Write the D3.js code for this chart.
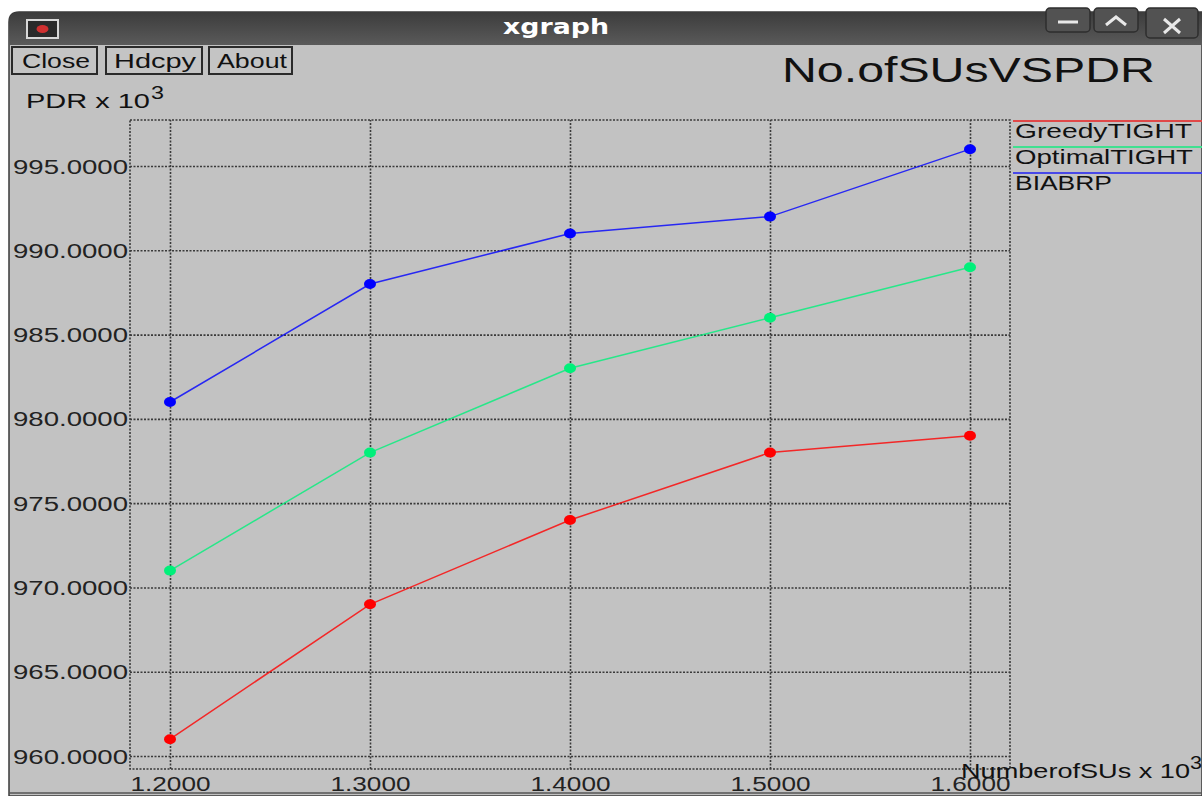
<!DOCTYPE html>
<html>
<head>
<meta charset="utf-8">
<script src="https://cdn.jsdelivr.net/npm/d3@7"></script>
<style>
  body { margin: 0; background: #fff; }
  svg { display: block; font-family: "Liberation Sans", "DejaVu Sans", sans-serif; }
</style>
</head>
<body>
<svg id="chart" width="1202" height="796"></svg>
<script>
// values
const xValues = [1.2, 1.3, 1.4, 1.5, 1.6];
const greedyTight = [961, 969, 974, 978, 979];
const optimalTight = [971, 978, 983, 986, 989];
const biabrp = [981, 988, 991, 992, 996];
const seriesNames = ["GreedyTIGHT", "OptimalTIGHT", "BIABRP"];
const seriesColors = ["#ff0000", "#00f07a", "#0000ff"];
const legendColors = ["#e04848", "#40e090", "#4848e8"];
const yTicks = [960, 965, 970, 975, 980, 985, 990, 995];
const xTicks = [1.2, 1.3, 1.4, 1.5, 1.6];
const buttonLabels = ["Close", "Hdcpy", "About"];

const svg = d3.select("#chart");
const W = 1202, H = 796;

// xgraph fonts are drawn wide, so stretch text to the widths seen in the window
const stretch = (t, len) => t.attr("textLength", len).attr("lengthAdjust", "spacingAndGlyphs");

// window frame
const defs = svg.append("defs");
const grad = defs.append("linearGradient").attr("id", "tbar").attr("x1", 0).attr("y1", 0).attr("x2", 0).attr("y2", 1);
grad.append("stop").attr("offset", "0%").attr("stop-color", "#3c3c3c");
grad.append("stop").attr("offset", "100%").attr("stop-color", "#5a5a5a");

svg.append("path")
  .attr("d", `M9 ${H} L9 22 Q9 12 19 12 L${W} 12 L${W} ${H} Z`)
  .attr("fill", "#c2c2c2").attr("stroke", "#3a3a3a").attr("stroke-width", 1.5);
svg.append("path")
  .attr("d", `M9 45 L9 22 Q9 12 19 12 L${W} 12 L${W} 45 Z`)
  .attr("fill", "url(#tbar)");
svg.append("line").attr("x1", 9).attr("x2", W).attr("y1", 793).attr("y2", 793)
  .attr("stroke", "#555").attr("stroke-width", 1.5);

// title bar icon
svg.append("rect").attr("x", 27).attr("y", 20).attr("width", 31).attr("height", 18)
  .attr("fill", "#2a2a2a").attr("stroke", "#d8d8d8").attr("stroke-width", 2);
svg.append("ellipse").attr("cx", 42.5).attr("cy", 29).attr("rx", 6).attr("ry", 4).attr("fill", "#d03030");

svg.append("text").attr("x", 503).attr("y", 34)
  .attr("font-size", 21).attr("font-weight", "bold").attr("fill", "#fff")
  .attr("font-family", "DejaVu Sans").text("xgraph").call(stretch, 106);

// window controls
const ctrl = [[1046, 1090, 32], [1094, 1138, 32], [1146, 1198, 38]];
ctrl.forEach(c => {
  svg.append("rect").attr("x", c[0]).attr("y", 8).attr("width", c[1] - c[0]).attr("height", c[2] - 8)
    .attr("rx", 4).attr("fill", "#525252").attr("stroke", "#2e2e2e").attr("stroke-width", 1.5);
});
svg.append("line").attr("x1", 1058).attr("x2", 1078).attr("y1", 22).attr("y2", 22)
  .attr("stroke", "#e8e8e8").attr("stroke-width", 3);
svg.append("path").attr("d", "M1106 25 L1116 17 L1126 25").attr("fill", "none")
  .attr("stroke", "#e8e8e8").attr("stroke-width", 3);
svg.append("path").attr("d", "M1164 19 L1180 33 M1180 19 L1164 33").attr("fill", "none")
  .attr("stroke", "#e8e8e8").attr("stroke-width", 3);

// buttons
const btnX = [[12, 97], [106, 202], [209, 292]];
const btnText = [[22, 68], [114, 82], [217, 70]];
buttonLabels.forEach((b, i) => {
  svg.append("rect").attr("x", btnX[i][0]).attr("y", 47).attr("width", btnX[i][1] - btnX[i][0]).attr("height", 27)
    .attr("fill", "#c4c4c4").attr("stroke", "#2a2a2a").attr("stroke-width", 2);
  svg.append("text").attr("x", btnText[i][0]).attr("y", 68)
    .attr("font-size", 20).attr("fill", "#111").text(b).call(stretch, btnText[i][1]);
});

// chart title
svg.append("text").attr("x", 782).attr("y", 82)
  .attr("font-size", 35).attr("fill", "#111").text("No.ofSUsVSPDR").call(stretch, 373);

// scales
const pL = 130, pR = 1010, pT = 120, pB = 769;
const x = d3.scaleLinear().domain([1.18, 1.62]).range([pL, pR]);
const y = d3.scaleLinear().domain([959.23, 997.73]).range([pB, pT]);

const gridStyle = g => g.attr("stroke", "#3a3a3a").attr("stroke-width", 1.6).attr("stroke-dasharray", "2,1.5").attr("fill", "none");

// frame
svg.append("rect").attr("x", pL).attr("y", pT).attr("width", pR - pL).attr("height", pB - pT).call(gridStyle);

// y axis grid + labels
const yAxis = d3.axisLeft(y).tickValues(yTicks).tickSize(-(pR - pL)).tickPadding(2).tickFormat(d3.format(".4f"));
const gy = svg.append("g").attr("transform", `translate(${pL},0)`).call(yAxis);
gy.select(".domain").remove();
gy.selectAll("line").call(gridStyle);
gy.selectAll("text").attr("font-size", 20).attr("fill", "#222")
  .attr("dy", "0.35em").call(stretch, 115);

// x axis grid + labels
const xAxis = d3.axisBottom(x).tickValues(xTicks).tickSize(-(pB - pT)).tickPadding(12).tickFormat(d3.format(".4f"));
const gx = svg.append("g").attr("transform", `translate(0,${pB})`).call(xAxis);
gx.select(".domain").remove();
gx.selectAll("line").call(gridStyle);
gx.selectAll("text").attr("font-size", 20).attr("fill", "#222")
  .attr("dy", "0.5em").call(stretch, 80);

// axis labels
svg.append("text").attr("x", 26).attr("y", 108).attr("font-size", 20).attr("fill", "#111")
  .text("PDR x 10").call(stretch, 124);
svg.append("text").attr("x", 151).attr("y", 99).attr("font-size", 19).attr("fill", "#111")
  .text("3").call(stretch, 13);

svg.append("text").attr("x", 961).attr("y", 778).attr("font-size", 20).attr("fill", "#111")
  .text("NumberofSUs x 10").call(stretch, 229);
svg.append("text").attr("x", 1190).attr("y", 769).attr("font-size", 19).attr("fill", "#111")
  .text("3").call(stretch, 12);

// series
const series = [greedyTight, optimalTight, biabrp];
const line = d3.line().x((d, i) => x(xValues[i])).y(d => y(d));
series.forEach((s, k) => {
  svg.append("path").datum(s).attr("d", line).attr("fill", "none")
    .attr("stroke", seriesColors[k]).attr("stroke-width", 1.5).attr("opacity", 0.8);
  svg.selectAll(null).data(s).enter().append("ellipse")
    .attr("cx", (d, i) => x(xValues[i])).attr("cy", d => y(d))
    .attr("rx", 6).attr("ry", 5).attr("fill", seriesColors[k]);
});

// legend
const legendLen = [177, 178, 97];
seriesNames.forEach((n, k) => {
  const ly = 121 + k * 26;
  svg.append("line").attr("x1", 1013).attr("x2", W).attr("y1", ly).attr("y2", ly)
    .attr("stroke", legendColors[k]).attr("stroke-width", 2);
  svg.append("text").attr("x", 1015).attr("y", ly + 17).attr("font-size", 20).attr("fill", "#111")
    .text(n).call(stretch, legendLen[k]);
});
</script>
</body>
</html>
